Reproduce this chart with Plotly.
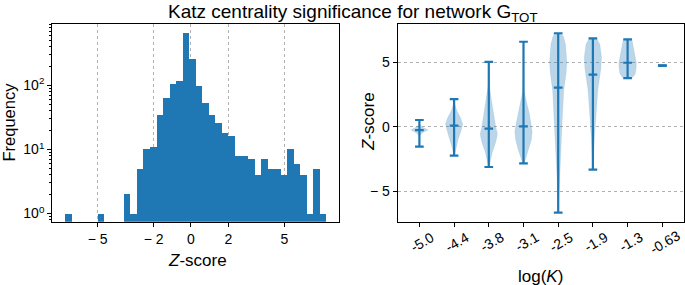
import numpy as np
import plotly.graph_objects as go

# ---------------- data ----------------
# Histogram of Katz-centrality Z-scores (40 equal bins)
hist_zmin = -6.73
hist_zmax = 7.27
hist_counts = [1, 0, 0, 0, 0, 1, 0, 0, 0, 2,
               1, 5, 10, 11, 35, 63, 107, 119, 653, 259,
               97, 53, 35, 26, 18, 16, 8, 8, 7, 4,
               7, 5, 5, 4, 10, 6, 4, 1, 5, 1]
hist_xticks = [-5, -2, 0, 2, 5]
hist_xticktext = ["\u2212 5", "\u2212 2", "0", "2", "5"]

# Violin plot: Z-score vs log(K)
logk_labels = ["-5.0", "-4.4", "-3.8", "-3.1", "-2.5", "-1.9", "-1.3", "-0.63"]
z_min = [-1.55, -2.25, -3.13, -2.85, -6.68, -3.34, 3.78, 4.74]
z_max = [0.52, 2.15, 5.03, 6.60, 7.26, 6.87, 6.79, 4.74]
z_med = [-0.26, 0.08, -0.15, 0.03, 3.03, 4.04, 4.97, 4.74]

# violin outlines: z levels and half-widths (in category units)
v1_z = [-1.55, -0.70, -0.45, -0.25, -0.05, 0.15, 0.52]
v1_w = [0.003, 0.008, 0.10, 0.25, 0.10, 0.008, 0.003]
v2_z = [-2.25, -1.60, -0.96, -0.31, 0.21, 0.73, 1.24, 1.76, 2.15]
v2_w = [0.01, 0.06, 0.12, 0.20, 0.25, 0.18, 0.08, 0.02, 0.005]
v3_z = [-3.13, -2.70, -2.00, -1.20, -0.57, 0.00, 1.00, 2.00, 3.20, 5.03]
v3_w = [0.01, 0.04, 0.10, 0.20, 0.25, 0.20, 0.13, 0.08, 0.02, 0.003]
v4_z = [-2.85, -2.40, -1.80, -1.00, -0.40, 0.00, 1.00, 2.00, 2.80, 6.60]
v4_w = [0.02, 0.07, 0.15, 0.23, 0.25, 0.23, 0.17, 0.08, 0.02, 0.003]
v5_z = [-6.68, -6.50, -4.20, -2.40, 0.20, 2.80, 4.20, 5.00, 6.40, 6.95, 7.26]
v5_w = [0.003, 0.005, 0.03, 0.07, 0.11, 0.16, 0.23, 0.25, 0.21, 0.16, 0.10]
v6_z = [-3.34, -3.30, -1.10, 0.73, 2.80, 4.50, 5.40, 6.40, 6.80, 6.87]
v6_w = [0.005, 0.01, 0.04, 0.09, 0.14, 0.23, 0.25, 0.20, 0.12, 0.08]
v7_z = [3.78, 3.84, 4.10, 4.60, 5.00, 5.40, 6.04, 6.70, 6.79]
v7_w = [0.10, 0.15, 0.22, 0.25, 0.25, 0.22, 0.18, 0.13, 0.10]
v8_z = [4.70, 4.74, 4.78]
v8_w = [0.0, 0.01, 0.0]
violin_z = [v1_z, v2_z, v3_z, v4_z, v5_z, v6_z, v7_z, v8_z]
violin_w = [v1_w, v2_w, v3_w, v4_w, v5_w, v6_w, v7_w, v8_w]

vio_yticks = [-5, 0, 5]
vio_yticktext = ["\u2212 5", "0", "5"]

# ---------------- figure ----------------
BLUE = "#1f77b4"
FONT = "Liberation Sans, Arial, Helvetica, sans-serif"
W, H = 685, 285

fig = go.Figure()

edges = np.linspace(hist_zmin, hist_zmax, len(hist_counts) + 1)
centers = (edges[:-1] + edges[1:]) / 2
binw = edges[1] - edges[0]
cnt = np.array(hist_counts, dtype=float)
mask = cnt > 0
fig.add_trace(go.Bar(x=centers[mask], y=cnt[mask], width=binw,
                     marker=dict(color=BLUE, line=dict(width=0)),
                     xaxis="x", yaxis="y", showlegend=False))

positions = list(range(1, len(logk_labels) + 1))
for p, zs, ws in zip(positions, violin_z, violin_w):
    xs = [p + w for w in ws] + [p - w for w in ws[::-1]]
    ys = list(zs) + list(zs[::-1])
    fig.add_trace(go.Scatter(x=xs, y=ys, fill="toself", mode="lines",
                             line=dict(width=0.6, color="rgba(31,119,180,0.15)"),
                             fillcolor="rgba(31,119,180,0.3)",
                             xaxis="x2", yaxis="y2", showlegend=False, hoverinfo="skip"))

cap = 0.125
lx, ly = [], []
for p, lo, hi, md in zip(positions, z_min, z_max, z_med):
    lx += [p, p, None]
    ly += [lo, hi, None]
    for v in (lo, hi, md):
        lx += [p - cap, p + cap, None]
        ly += [v, v, None]
fig.add_trace(go.Scatter(x=lx, y=ly, mode="lines", line=dict(color=BLUE, width=2.2),
                         xaxis="x2", yaxis="y2", showlegend=False))

ydom = [63.3 / H, 261.0 / H]
axcommon = dict(showline=True, linecolor="black", linewidth=1.3, mirror=True,
                ticks="outside", ticklen=4, tickcolor="black", tickwidth=1,
                tickfont=dict(size=14, color="black", family=FONT), zeroline=False)

fig.update_layout(
    width=W, height=H,
    margin=dict(l=0, r=0, t=0, b=0),
    plot_bgcolor="white", paper_bgcolor="white",
    font=dict(family=FONT, color="black"),
    bargap=0,
    xaxis=dict(domain=[52.3 / W, 339.0 / W], range=[-7.43, 7.93],
               tickvals=hist_xticks, ticktext=hist_xticktext,
               showgrid=True, gridcolor="#b0b0b0", griddash="dot", gridwidth=1,
               anchor="y", **axcommon),
    yaxis=dict(domain=ydom, type="log", range=[-0.128, 2.96],
               tickvals=[1, 10, 100],
               ticktext=["10<sup>0</sup>", "10<sup>1</sup>", "10<sup>2</sup>"],
               showgrid=False, anchor="x",
               minor=dict(ticks="outside", ticklen=2, tickcolor="black", dtick="D1"),
               **axcommon),
    xaxis2=dict(domain=[397.7 / W, 684.0 / W], range=[0.375, 8.625],
                tickvals=positions, showticklabels=False,
                showgrid=False, anchor="y2", **axcommon),
    yaxis2=dict(domain=ydom, range=[-7.38, 7.98],
                tickvals=vio_yticks, ticktext=vio_yticktext,
                showgrid=True, gridcolor="#b0b0b0", griddash="dot", gridwidth=1,
                anchor="x2", **axcommon),
)

ann = [
    dict(text="<i>Z</i>-score", xref="paper", x=197 / W, y=1 - 260 / H, font=dict(size=17)),
    dict(text="Frequency", xref="paper", x=8.5 / W, y=1 - 122 / H, textangle=-90,
         font=dict(size=16.5)),
    dict(text="<i>Z</i>-score", xref="paper", x=368 / W, y=1 - 122 / H, textangle=-90,
         font=dict(size=17)),
    dict(text="log(<i>K</i>)", xref="paper", x=540 / W, y=1 - 276 / H, font=dict(size=17)),
]
# rotated category labels of the violin panel, placed on the x2 scale
for p, lab in zip(positions, logk_labels):
    ann.append(dict(text=lab, xref="x2", x=p, xshift=3, y=1 - 242 / H, textangle=-30,
                    font=dict(size=14)))
for a in ann:
    a.update(yref="paper", showarrow=False, xanchor="center", yanchor="middle")
    a["font"].update(family=FONT, color="black")
ann.append(dict(text="Katz centrality significance for network G<sub>TOT</sub>",
                xref="paper", yref="paper", x=353 / W, y=1.0, xanchor="center",
                yanchor="top", showarrow=False, borderpad=0,
                font=dict(size=19, family=FONT, color="black")))
fig.update_layout(annotations=ann)

fig.write_html("out.html", config={"displayModeBar": False},
               post_script="document.body.style.margin='0';")
